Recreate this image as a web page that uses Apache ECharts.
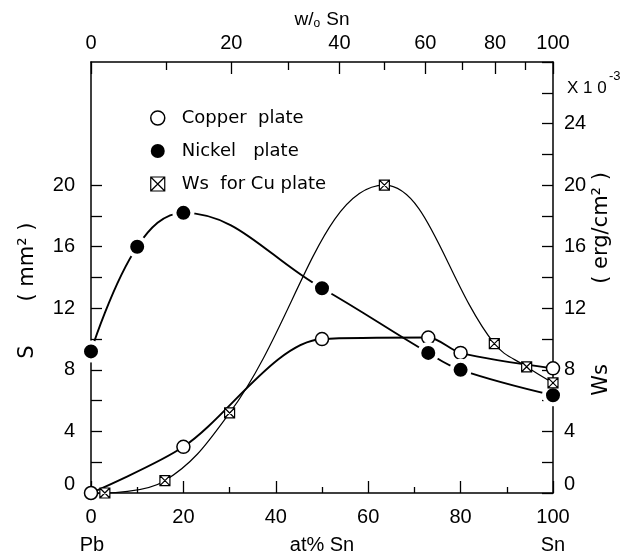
<!DOCTYPE html>
<html><head><meta charset="utf-8">
<script src="https://cdn.jsdelivr.net/npm/echarts@6/dist/echarts.min.js"></script>
<style>html,body{margin:0;padding:0;background:#fff}#c{width:632px;height:557px}</style>
</head><body><div id="c"></div>
<script>
// ---- data ----
const copperX = [0, 20, 50, 73, 80, 100];
const copperS = [0, 3.0, 10.0, 10.1, 9.1, 8.1];
const nickelX = [0, 10, 20, 50, 73, 80, 100];
const nickelS = [9.2, 16.0, 18.2, 13.3, 9.1, 8.0, 6.35];
const wsX = [3, 16, 30, 63.5, 87.3, 94.3, 100];
const wsVal = [0, 0.8, 5.2, 20, 9.7, 8.2, 7.15];

const leftMax = 20;
const leftLabelStep = 4;
const rightLabelMax = 24;
const rightLabelStep = 4;
const topMajorWo = [0, 20, 40, 60, 80, 100];
const topMinorWo = [10, 30, 50, 70, 90];

const M_SN = 118.71, M_PB = 207.2;
function woToAt(w) { const a = w / M_SN, b = (100 - w) / M_PB; return 100 * a / (a + b); }
function atToWo(x) { const a = x * M_SN, b = (100 - x) * M_PB; return 100 * a / (a + b); }

const NUMFONT = 'Liberation Sans';
const TXTFONT = 'DejaVu Sans';
const pair = (xs, ys) => xs.map((x, i) => [x, ys[i]]);
const zeroRich = { z: { fontSize: 20, fontFamily: NUMFONT, color: '#000', padding: [0, 0, 18, 0] } };
const yFmt = v => v === 0 ? '{z|0}' : String(v);
const WS_SYMBOL = 'path://M0,0 L10,0 L10,10 L0,10 Z M0,0 L10,10 M10,0 L0,10';

const GL = 91, GR = 79, GT = 62, GB = 64, YMAX = 28;
const plotH = 557 - GT - GB;
const leftGridTop = GT + plotH * (YMAX - leftMax) / YMAX;
const LINE = { show: true, onZero: false, lineStyle: { color: '#000', width: 1.5 } };
const TICKSTYLE = { color: '#000', width: 1.3 };

const chart = echarts.init(document.getElementById('c'), null, { renderer: 'canvas' });
chart.setOption({
  animation: false,
  backgroundColor: '#fff',
  grid: [
    { left: GL, right: GR, top: GT, bottom: GB },
    { left: GL, right: GR, top: leftGridTop, bottom: GB }
  ],
  legend: {
    orient: 'vertical', left: 145, top: 104, itemGap: 15, itemWidth: 14, itemHeight: 14,
    textStyle: { fontSize: 18, fontFamily: TXTFONT, color: '#000', padding: [0, 0, 0, 12] },
    data: [
      { name: 'Copper  plate', icon: 'circle', itemStyle: { color: '#fff', borderColor: '#000', borderWidth: 1.5 } },
      { name: 'Nickel   plate', icon: 'circle', itemStyle: { color: '#000', borderWidth: 0 } },
      { name: 'Ws  for Cu plate', icon: WS_SYMBOL, itemStyle: { color: '#fff', borderColor: '#000', borderWidth: 1.2 } }
    ],
    selectedMode: false
  },
  xAxis: [
    {
      type: 'value', gridIndex: 0, position: 'bottom', min: 0, max: 100, interval: 20,
      axisLine: LINE,
      axisTick: { show: true, inside: true, length: 12, lineStyle: TICKSTYLE },
      minorTick: { show: true, splitNumber: 2, length: 6, lineStyle: TICKSTYLE },
      axisLabel: { margin: 14, fontSize: 20, fontFamily: NUMFONT, color: '#000' },
      splitLine: { show: false }
    },
    {
      type: 'value', gridIndex: 0, position: 'top', min: 0, max: 100,
      axisLine: LINE,
      axisTick: { show: true, inside: true, length: 12, customValues: topMajorWo.map(woToAt), lineStyle: TICKSTYLE },
      axisLabel: { margin: 9, fontSize: 20, fontFamily: NUMFONT, color: '#000', customValues: topMajorWo.map(woToAt),
        formatter: v => String(Math.round(atToWo(v))) },
      splitLine: { show: false }
    },
    {
      type: 'value', gridIndex: 0, position: 'top', min: 0, max: 100,
      axisLine: { show: false, onZero: false },
      axisTick: { show: true, inside: true, length: 8, customValues: topMinorWo.map(woToAt), lineStyle: TICKSTYLE },
      axisLabel: { show: false },
      splitLine: { show: false }
    },
    { type: 'value', gridIndex: 1, min: 0, max: 100, show: false, axisLine: { onZero: false } }
  ],
  yAxis: [
    {
      type: 'value', gridIndex: 0, position: 'left', min: 0, max: YMAX,
      axisLine: LINE,
      axisTick: { show: false }, axisLabel: { show: false }, splitLine: { show: false }
    },
    {
      type: 'value', gridIndex: 0, position: 'right', min: 0, max: YMAX, interval: 2,
      axisLine: LINE,
      axisTick: { show: true, inside: true, length: 11, lineStyle: TICKSTYLE },
      axisLabel: { margin: 11, fontSize: 20, fontFamily: NUMFONT, color: '#000',
        formatter: v => (v % rightLabelStep === 0 && v <= rightLabelMax) ? yFmt(v) : '', rich: zeroRich },
      splitLine: { show: false }
    },
    {
      type: 'value', gridIndex: 1, position: 'left', min: 0, max: leftMax, interval: 2,
      axisLine: { show: false, onZero: false },
      axisTick: { show: true, inside: true, length: 11, lineStyle: TICKSTYLE },
      axisLabel: { margin: 16, fontSize: 20, fontFamily: NUMFONT, color: '#000',
        formatter: v => (v % leftLabelStep === 0) ? yFmt(v) : '', rich: zeroRich },
      splitLine: { show: false }
    }
  ],
  series: [
    {
      name: 'Copper  plate', type: 'line', xAxisIndex: 0, yAxisIndex: 0, smooth: 0.3,
      data: pair(copperX, copperS), symbol: 'circle', symbolSize: 13,
      lineStyle: { color: '#000', width: 1.9 },
      itemStyle: { color: '#fff', borderColor: '#000', borderWidth: 1.5 }, z: 3
    },
    {
      name: 'Nickel   plate', type: 'line', xAxisIndex: 0, yAxisIndex: 0, smooth: 0.4,
      data: pair(nickelX, nickelS), symbol: 'circle', symbolSize: 18,
      lineStyle: { color: '#000', width: 1.9 },
      itemStyle: { color: '#000', borderColor: '#fff', borderWidth: 4 }, z: 4
    },
    {
      name: 'Ws  for Cu plate', type: 'line', xAxisIndex: 0, yAxisIndex: 1, smooth: 0.4,
      data: pair(wsX, wsVal), symbol: WS_SYMBOL, symbolSize: 10,
      lineStyle: { color: '#000', width: 1.2 },
      itemStyle: { color: '#fff', borderColor: '#000', borderWidth: 1.2 }, z: 5
    }
  ],
  graphic: [
    { type: 'text', x: 322, y: 20, style: { text: '{a|w/}{b|o}{a| Sn}', align: 'center', verticalAlign: 'middle',
      rich: { a: { fontSize: 19, fontFamily: NUMFONT, fill: '#000' }, b: { fontSize: 12, fontFamily: NUMFONT, fill: '#000', padding: [8, 1, 0, 0] } } } },
    { type: 'text', x: 92, y: 545, style: { text: 'Pb', fontSize: 20, fontFamily: NUMFONT, fill: '#000', align: 'center', verticalAlign: 'middle' } },
    { type: 'text', x: 322, y: 545, style: { text: 'at% Sn', fontSize: 20, fontFamily: NUMFONT, fill: '#000', align: 'center', verticalAlign: 'middle' } },
    { type: 'text', x: 553, y: 545, style: { text: 'Sn', fontSize: 20, fontFamily: NUMFONT, fill: '#000', align: 'center', verticalAlign: 'middle' } },
    { type: 'text', x: 567, y: 88, style: { text: 'X 1 0', fontSize: 17, fontFamily: NUMFONT, fill: '#000', align: 'left', verticalAlign: 'middle' } },
    { type: 'text', x: 609, y: 76, style: { text: '-3', fontSize: 13, fontFamily: NUMFONT, fill: '#000', align: 'left', verticalAlign: 'middle' } },
    { type: 'text', x: 28, y: 352, rotation: Math.PI / 2, style: { text: 'S', fontSize: 21, fontFamily: TXTFONT, fill: '#000', align: 'center', verticalAlign: 'middle' } },
    { type: 'text', x: 28, y: 262, rotation: Math.PI / 2, style: { text: '( mm² )', fontSize: 21, fontFamily: TXTFONT, fill: '#000', align: 'center', verticalAlign: 'middle' } },
    { type: 'text', x: 602, y: 380, rotation: Math.PI / 2, style: { text: 'Ws', fontSize: 21, fontFamily: TXTFONT, fill: '#000', align: 'center', verticalAlign: 'middle' } },
    { type: 'text', x: 602, y: 228, rotation: Math.PI / 2, style: { text: '( erg/cm² )', fontSize: 21, fontFamily: TXTFONT, fill: '#000', align: 'center', verticalAlign: 'middle' } }
  ]
});
</script>
</body></html>
